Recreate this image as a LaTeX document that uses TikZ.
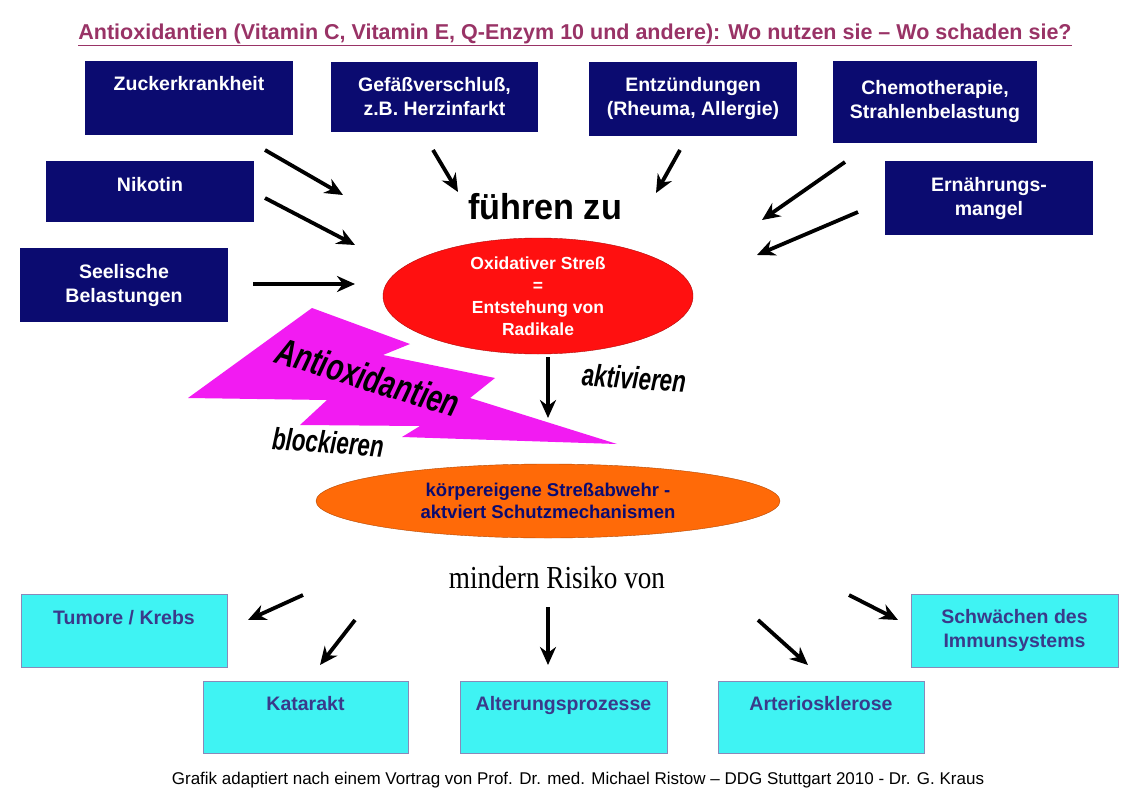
\documentclass[tikz,border=0pt]{standalone}
\usetikzlibrary{arrows.meta,shapes.geometric}
\usepackage{fontspec}
\setmainfont{Liberation Sans}
\newfontfamily\serifx{Liberation Serif}
\definecolor{navy}{HTML}{0B0B70}
\definecolor{cyanb}{HTML}{3FF3F3}
\definecolor{cyantxt}{HTML}{3A3A8A}
\definecolor{titlec}{HTML}{993366}
\definecolor{redb}{HTML}{FF1010}
\definecolor{orangeb}{HTML}{FF6A08}
\definecolor{magb}{HTML}{F21BF2}
\begin{document}
\begin{tikzpicture}[x=1pt,y=-1pt,
  nb/.style={fill=navy,text=white,font=\fontsize{19.5}{24}\selectfont\bfseries,align=center,inner sep=0},
  nt/.style={text=white,font=\fontsize{19.5}{24}\selectfont\bfseries,align=center,inner sep=0},
  cb/.style={fill=cyanb,draw=cyantxt!60,text=cyantxt,font=\fontsize{19.5}{24}\selectfont\bfseries,align=center,inner sep=0},
  ct/.style={text=cyantxt,font=\fontsize{19.5}{24}\selectfont\bfseries,align=center,inner sep=0},
  ar/.style={line width=3.8pt,-{Stealth[length=18pt,width=16pt]}},
]
\useasboundingbox (0,0) rectangle (1143,800);
\fill[white] (0,0) rectangle (1143,800);
\node[text=titlec,font=\fontsize{21.5}{24}\selectfont\bfseries] (title) at (575,35) {\underline{Antioxidantien (Vitamin C, Vitamin E, Q-Enzym 10 und andere): Wo nutzen sie -- Wo schaden sie?}};
\node[nb,minimum width=208,minimum height=73] (zk) at (189,98) {};
\node[nt,anchor=north] at (189,76) {Zuckerkrankheit};
\node[nb,minimum width=207,minimum height=70] (gv) at (434.5,97) {Gefäßverschluß,\\z.B. Herzinfarkt};
\node[nb,minimum width=208,minimum height=74] (ez) at (693,99) {Entzündungen\\(Rheuma, Allergie)};
\node[nb,minimum width=204,minimum height=81] (ct) at (935,102) {Chemotherapie,\\Strahlenbelastung};
\node[nb,minimum width=208,minimum height=61] (nk) at (150,191.5) {};
\node[nt,anchor=north] at (150,177) {Nikotin};
\node[nb,minimum width=208,minimum height=74] (em) at (989,198) {Ernährungs-\\mangel};
\node[nb,minimum width=208,minimum height=74] (sb) at (124,285) {Seelische\\Belastungen};
\coordinate (a1s) at (265,150); \coordinate (a1e) at (343,195);
\coordinate (a2s) at (433,150); \coordinate (a2e) at (458,192);
\coordinate (a3s) at (680,150); \coordinate (a3e) at (656,193);
\coordinate (a4s) at (845,162); \coordinate (a4e) at (762,220);
\coordinate (a5s) at (265,198); \coordinate (a5e) at (355,245);
\coordinate (a6s) at (858,212); \coordinate (a6e) at (757,255);
\coordinate (a7s) at (253,284); \coordinate (a7e) at (355,284);
\foreach \i in {1,...,7} \draw[ar] (a\i s) -- (a\i e);
\node[font=\fontsize{36}{40}\selectfont\bfseries,xscale=0.95] (fz) at (545,207) {führen zu};
\node[ellipse,fill=redb,draw=redb!70!black,minimum width=310,minimum height=116,text=white,font=\fontsize{17.5}{22}\selectfont\bfseries,align=center,inner sep=0] (ox) at (538,296) {Oxidativer Streß\\=\\Entstehung von\\Radikale};
\fill[magb] (188,398) -- (312,308) -- (410,344) -- (383,355) -- (495,378) -- (470,398) -- (617,444) -- (402,437) -- (420,426) -- (300,425) -- (327,400) -- cycle;
\node[rotate=-17,font=\fontsize{38}{40}\selectfont\bfseries\itshape,xscale=0.72] (anti) at (368,377) {Antioxidantien};
\node[rotate=-4,font=\fontsize{31}{34}\selectfont\bfseries\itshape,xscale=0.72] (bl) at (328,442) {blockieren};
\node[rotate=-4,font=\fontsize{31}{34}\selectfont\bfseries\itshape,xscale=0.72] (ak) at (634,378) {aktivieren};
\node[ellipse,fill=orangeb,draw=orangeb!70!black,minimum width=464,minimum height=74,text=navy,font=\fontsize{18.5}{22}\selectfont\bfseries,align=center,inner sep=0] (ks) at (548,501) {körpereigene Streßabwehr -\\aktviert Schutzmechanismen};
\coordinate (o1) at (548,357);
\coordinate (o2) at (548,418);
\draw[ar] (o1) -- (o2);
\node[font=\fontsize{32}{36}\selectfont\serifx,xscale=0.85] (mr) at (557,578) {mindern Risiko von};
\node[cb,minimum width=206,minimum height=73] (tk) at (124,630.5) {};
\node[ct,anchor=north] at (124,610) {Tumore / Krebs};
\node[cb,minimum width=207,minimum height=73] (si) at (1014.5,630.5) {Schwächen des\\Immunsystems};
\node[cb,minimum width=205,minimum height=72] (ka) at (305.5,717) {};
\node[ct,anchor=north] at (305.5,696) {Katarakt};
\node[cb,minimum width=207,minimum height=72] (al) at (563.5,717) {};
\node[ct,anchor=north] at (563.5,696) {Alterungsprozesse};
\node[cb,minimum width=206,minimum height=72] (as) at (821,717) {};
\node[ct,anchor=north] at (821,696) {Arteriosklerose};
\coordinate (b1s) at (303,595); \coordinate (b1e) at (248,620);
\coordinate (b2s) at (355,620); \coordinate (b2e) at (320,665);
\coordinate (b3s) at (548,607); \coordinate (b3e) at (548,665);
\coordinate (b4s) at (758,620); \coordinate (b4e) at (808,665);
\coordinate (b5s) at (849,595); \coordinate (b5e) at (898,620);
\foreach \i in {1,...,5} \draw[ar] (b\i s) -- (b\i e);
\node[font=\fontsize{17}{20}\selectfont] (ft) at (578,780) {Grafik adaptiert nach einem Vortrag von Prof. Dr. med. Michael Ristow -- DDG Stuttgart 2010 - Dr. G. Kraus};
\end{tikzpicture}
\end{document}
